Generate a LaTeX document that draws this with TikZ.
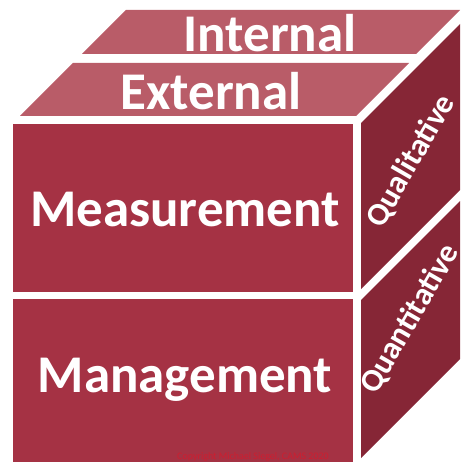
\documentclass[tikz,border=0pt]{standalone}
\usepackage{fontspec}
\setmainfont{Carlito}
\definecolor{frontred}{RGB}{165,50,68}
\definecolor{topred}{RGB}{185,92,104}
\definecolor{sidered}{RGB}{134,38,54}
\definecolor{notered}{RGB}{205,30,48}
\tikzset{
  bigtext/.style={text=white, font=\fontsize{53}{53}\selectfont\bfseries, inner sep=0pt},
  sidetext/.style={text=white, font=\fontsize{32}{32}\selectfont\bfseries, inner sep=0pt, rotate=60},
}
\begin{document}
\begin{tikzpicture}[x=1pt,y=-1pt]
  \useasboundingbox (0,0) rectangle (460,462);
  % front face: two stacked blocks
  \fill[frontred] (13,124) rectangle (353,292);
  \fill[frontred] (13,299) rectangle (353,463);
  \node[bigtext] (meas) at (185,210) {Measurement};
  \node[bigtext] (mgmt) at (185,380) {Management};
  % top face: two slanted slabs
  \fill[topred] (20,116) -- (73,63) -- (409,63) -- (356,116) -- cycle;
  \fill[topred] (82,54) -- (126,10) -- (460,10) -- (416,54) -- cycle;
  \node[bigtext] (ext) at (211,91) {External};
  \node[bigtext] (int) at (270,33) {Internal};
  % right face: two slanted panels
  \fill[sidered] (361,123) -- (460,24) -- (460,190) -- (361,289) -- cycle;
  \fill[sidered] (361,300) -- (460,201) -- (460,359) -- (361,458) -- cycle;
  \node[sidetext] (qual) at (411,161) {Qualitative};
  \node[sidetext] (quant) at (410,319) {Quantitative};
  % copyright line along the bottom
  \node[text=notered, font=\fontsize{10}{10}\selectfont, anchor=base, inner sep=0pt] (copy) at (253,459) {Copyright Michael Siegel, CAMS 2020};
\end{tikzpicture}
\end{document}
